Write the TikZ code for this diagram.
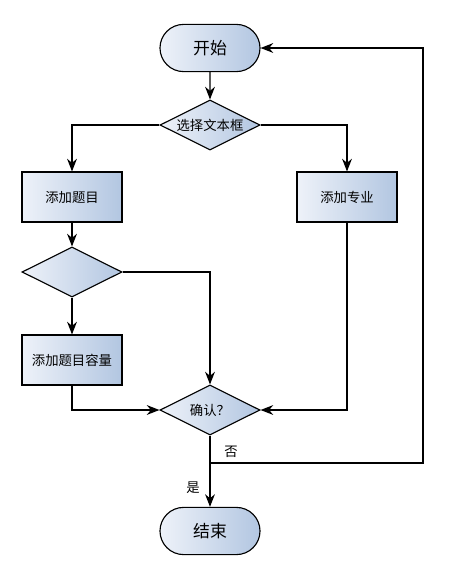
\documentclass[tikz,border=0pt]{standalone}
\usepackage{fontspec}
\newfontfamily\cjk{Noto Sans CJK SC}
\usetikzlibrary{shapes.geometric,shapes.misc,arrows.meta}
\definecolor{fillL}{HTML}{EEF2F9}
\definecolor{fillR}{HTML}{B2C6E1}

\begin{document}
\begin{tikzpicture}[x=0.025cm,y=-0.025cm,>={Stealth[length=9pt,width=7pt]},
  line/.style={line width=0.8pt},
  box/.style={draw,line width=0.8pt,left color=fillL,right color=fillR,
    minimum width=2.5cm,minimum height=1.25cm,inner sep=0pt,
    font=\cjk\fontsize{9.5}{11}\selectfont},
  term/.style={box,rounded rectangle,minimum height=1.18cm,
    font=\cjk\fontsize{12}{14}\selectfont},
  decide/.style={box,diamond,aspect=2}]
  \useasboundingbox (0,0) rectangle (454,580);
  % terminals
  \node[term] (start) at (210,48) {开始};
  \node[term] (stop) at (210,531) {结束};
  % decisions, text put on top so the diamond keeps its size
  \node[decide,label={[font=\cjk\fontsize{9.5}{11}\selectfont]center:选择文本框}] (pick) at (210,125) {};
  \node[decide] (more) at (72,272) {};
  \node[decide,label={[font=\cjk\fontsize{9.5}{11}\selectfont]center:确认？}] (ok) at (210,410) {};
  % steps
  \node[box] (topic) at (72,197) {添加题目};
  \node[box] (major) at (347,197) {添加专业};
  \node[box] (cap) at (72,360) {添加题目容量};
  % connectors
  \draw[line,->] (start) -- (pick);
  \draw[line,->] (pick.west) -| (topic.north);
  \draw[line,->] (pick.east) -| (major.north);
  \draw[line,->] (topic) -- (more);
  \draw[line,->] (more) -- (cap);
  \draw[line,->] (more.east) -| (ok.north);
  \draw[line,->] (cap.south) |- (ok.west);
  \draw[line,->] (major.south) |- (ok.east);
  \coordinate (split) at (210,463);
  \coordinate (back) at (423,48);
  \draw[line,->] (ok.south) -- (stop.north);
  \draw[line,->] (split) -| (back) -- (start.east);
  \node[font=\cjk\fontsize{9.5}{11}\selectfont] (no) at (231,452) {否};
  \node[font=\cjk\fontsize{9.5}{11}\selectfont] (yes) at (193,488) {是};
\end{tikzpicture}
\end{document}
